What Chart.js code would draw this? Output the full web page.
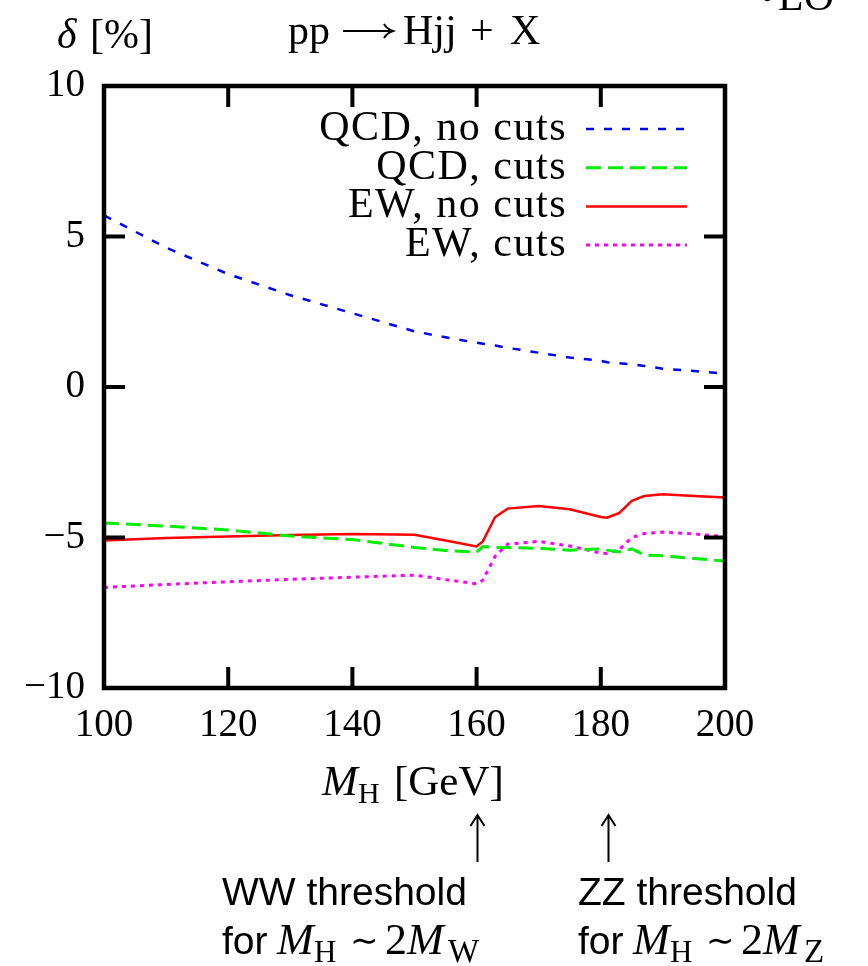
<!DOCTYPE html>
<html>
<head>
<meta charset="utf-8">
<script src="https://cdn.jsdelivr.net/npm/chart.js@4.4.0/dist/chart.umd.min.js"></script>
<style>
html, body { margin: 0; padding: 0; background: #fff; }
#wrap { width: 868px; height: 966px; }
</style>
</head>
<body>
<div id="wrap"><canvas id="chart" width="868" height="966"></canvas></div>
<script>
// Higgs mass in GeV
var masses      = [100, 110, 120, 130, 140, 150, 155, 160, 161, 163, 165, 170, 175, 180, 181, 183, 185, 187, 190, 195, 200];
// relative corrections delta in %
var qcdNoCuts   = [5.70, 4.63, 3.75, 3.05, 2.45, 1.85, 1.65, 1.47, 1.44, 1.38, 1.30, 1.14, 0.98, 0.87, 0.82, 0.79, 0.75, 0.70, 0.61, 0.53, 0.44];
var qcdCuts     = [-4.52, -4.62, -4.75, -4.95, -5.07, -5.33, -5.43, -5.49, -5.30, -5.33, -5.33, -5.36, -5.42, -5.38, -5.42, -5.48, -5.38, -5.58, -5.61, -5.70, -5.78];
var ewNoCuts    = [-5.10, -5.02, -4.97, -4.92, -4.88, -4.91, -5.10, -5.30, -5.13, -4.32, -4.04, -3.95, -4.06, -4.32, -4.34, -4.18, -3.78, -3.62, -3.56, -3.62, -3.67];
var ewCuts      = [-6.66, -6.56, -6.47, -6.39, -6.32, -6.25, -6.40, -6.54, -6.42, -5.62, -5.22, -5.13, -5.28, -5.52, -5.53, -5.40, -5.00, -4.87, -4.82, -4.88, -4.97];
var seriesNames = ['QCD, no cuts', 'QCD, cuts', 'EW, no cuts', 'EW, cuts'];
var xTicks = [100, 120, 140, 160, 180, 200];
var yTicks = [-10, -5, 0, 5, 10];
var thresholds = [160.1, 181.2];

var SERIF = '"Liberation Serif", "Times New Roman", serif';
var SANS = '"Liberation Sans", Arial, sans-serif';

function pts(ys) {
    var out = [];
    for (var i = 0; i < masses.length; i++) out.push({ x: masses[i], y: ys[i] });
    return out;
}

function minus(v) {
    return v < 0 ? '\u2212' + Math.abs(v) : String(v);
}

// text pieces at fixed offsets from x0
function place(ctx, x0, y, list) {
    for (var i = 0; i < list.length; i++) {
        var r = list[i];
        ctx.font = r.font;
        ctx.fillText(r.t, x0 + r.x, y + (r.dy || 0));
    }
}

var decor = {
    id: 'decor',
    afterDraw: function(chart) {
        var ctx = chart.ctx;
        var a = chart.chartArea;
        var xs = chart.scales.x;
        var ys = chart.scales.y;
        var i;

        ctx.save();
        ctx.strokeStyle = '#000';
        ctx.fillStyle = '#000';

        // inward ticks, mirrored
        ctx.lineWidth = 4;
        ctx.beginPath();
        for (i = 0; i < xTicks.length; i++) {
            var px = xs.getPixelForValue(xTicks[i]);
            ctx.moveTo(px, a.bottom); ctx.lineTo(px, a.bottom - 21);
            ctx.moveTo(px, a.top); ctx.lineTo(px, a.top + 21);
        }
        for (i = 0; i < yTicks.length; i++) {
            var py = ys.getPixelForValue(yTicks[i]);
            ctx.moveTo(a.left, py); ctx.lineTo(a.left + 21, py);
            ctx.moveTo(a.right, py); ctx.lineTo(a.right - 21, py);
        }
        ctx.stroke();

        // frame
        ctx.lineWidth = 4.5;
        ctx.strokeRect(a.left, a.top, a.right - a.left, a.bottom - a.top);

        // key
        var ds = chart.data.datasets;
        ctx.textAlign = 'right';
        ctx.textBaseline = 'middle';
        ctx.font = '42px ' + SERIF;
        ctx.letterSpacing = '1.5px';
        for (i = 0; i < ds.length; i++) {
            var ry = 129 + i * 38.7;
            ctx.fillStyle = '#000';
            ctx.fillText(ds[i].label, 567, ry);
            ctx.strokeStyle = ds[i].borderColor;
            ctx.lineWidth = ds[i].borderWidth;
            ctx.setLineDash(ds[i].borderDash || []);
            ctx.beginPath();
            ctx.moveTo(586, ry); ctx.lineTo(687, ry);
            ctx.stroke();
        }
        ctx.setLineDash([]);
        ctx.letterSpacing = '0px';

        // titles
        ctx.fillStyle = '#000';
        ctx.strokeStyle = '#000';
        ctx.textBaseline = 'alphabetic';
        ctx.textAlign = 'left';
        place(ctx, 57, 48, [
            { t: '\u03b4', font: 'italic 42px ' + SERIF, x: 0 },
            { t: '[%]', font: '42px ' + SERIF, x: 33 }
        ]);
        place(ctx, 288, 44, [
            { t: 'pp', font: '42px ' + SERIF, x: 0 },
            { t: 'Hjj', font: '42px ' + SERIF, x: 115 },
            { t: '+', font: '42px ' + SERIF, x: 182 },
            { t: 'X', font: '42px ' + SERIF, x: 222 }
        ]);
        // long right arrow
        ctx.lineWidth = 2;
        ctx.beginPath();
        ctx.moveTo(343, 31); ctx.lineTo(392, 31);
        ctx.moveTo(384, 24); ctx.quadraticCurveTo(387, 29, 393, 31); ctx.quadraticCurveTo(387, 33, 384, 38);
        ctx.stroke();

        ctx.font = '42px ' + SERIF;
        ctx.fillText('\u2022', 760, 10);
        ctx.fillText('LO', 778, 10);

        // x axis title
        place(ctx, 322, 795, [
            { t: 'M', font: 'italic 43px ' + SERIF, x: 0 },
            { t: 'H', font: '30px ' + SERIF, dy: 8, x: 36 },
            { t: '[GeV]', font: '43px ' + SERIF, x: 72 }
        ]);

        // threshold arrows and notes
        var notes = [['WW threshold', 'W'], ['ZZ threshold', 'Z']];
        var textX = [222, 578];
        for (i = 0; i < thresholds.length; i++) {
            var ax = Math.round(xs.getPixelForValue(thresholds[i])) + 0.5;
            ctx.strokeStyle = '#000';
            ctx.lineWidth = 2;
            ctx.beginPath();
            ctx.moveTo(ax, 862); ctx.lineTo(ax, 816);
            ctx.moveTo(ax - 7, 826); ctx.lineTo(ax, 815); ctx.lineTo(ax + 7, 826);
            ctx.stroke();

            ctx.font = '39px ' + SANS;
            ctx.fillText(notes[i][0], textX[i], 905);
            place(ctx, textX[i], 954, [
                { t: 'for', font: '39px ' + SANS, x: 0 },
                { t: 'M', font: 'italic 44px ' + SERIF, x: 55 },
                { t: 'H', font: '31px ' + SERIF, dy: 8, x: 92 },
                { t: '\u223c', font: '34px ' + SERIF, x: 128, dy: -2 },
                { t: '2', font: '44px ' + SERIF, x: 163 },
                { t: 'M', font: 'italic 44px ' + SERIF, x: 185 },
                { t: notes[i][1], font: '33px ' + SERIF, dy: 8, x: 226 }
            ]);
        }
        ctx.restore();
    }
};

var chart = new Chart(document.getElementById('chart'), {
    type: 'line',
    data: {
        datasets: [
            { label: seriesNames[0], data: pts(qcdNoCuts), borderColor: '#0000ff', borderWidth: 2.5, borderDash: [8, 10] },
            { label: seriesNames[1], data: pts(qcdCuts), borderColor: '#00ee00', borderWidth: 3, borderDash: [15, 7] },
            { label: seriesNames[2], data: pts(ewNoCuts), borderColor: '#ff0000', borderWidth: 2.5 },
            { label: seriesNames[3], data: pts(ewCuts), borderColor: '#ff00ff', borderWidth: 3, borderDash: [4, 5] }
        ]
    },
    options: {
        responsive: false,
        animation: false,
        elements: { point: { radius: 0 }, line: { tension: 0, fill: false } },
        layout: { padding: { top: 86, right: 143, left: 0, bottom: 0 } },
        plugins: { legend: { display: false }, tooltip: { enabled: false } },
        scales: {
            x: {
                type: 'linear',
                min: 100,
                max: 200,
                afterBuildTicks: function(s) { s.ticks = xTicks.map(function(v) { return { value: v }; }); },
                afterFit: function(s) { s.height = 278; },
                grid: { display: false, drawTicks: false },
                border: { display: false },
                ticks: { color: '#000', padding: 14, maxRotation: 0, font: { family: SERIF, size: 39 } }
            },
            y: {
                min: -10,
                max: 10,
                afterBuildTicks: function(s) { s.ticks = yTicks.map(function(v) { return { value: v }; }); },
                afterFit: function(s) { s.width = 104; },
                grid: { display: false, drawTicks: false },
                border: { display: false },
                ticks: { color: '#000', padding: 19, font: { family: SERIF, size: 39 }, callback: function(v) { return minus(v); } }
            }
        }
    },
    plugins: [decor]
});
</script>
</body>
</html>
